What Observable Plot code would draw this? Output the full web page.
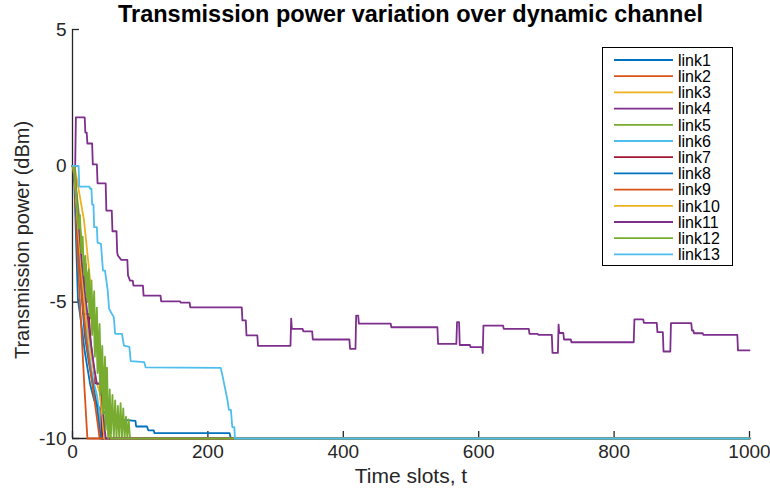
<!DOCTYPE html>
<html><head><meta charset="utf-8">
<script src="https://cdn.jsdelivr.net/npm/d3@7"></script>
<script src="https://cdn.jsdelivr.net/npm/@observablehq/plot@0.6"></script>
<style>
body{margin:0;background:#fff;}
#wrap{position:relative;width:770px;height:489px;font-family:"Liberation Sans",Arial,Helvetica,sans-serif;color:#000;}
#title{position:absolute;left:72px;width:677px;top:1px;text-align:center;font-weight:bold;font-size:23.5px;line-height:27px;}
#legend{position:absolute;left:602px;top:47px;}
</style></head><body>
<div id="wrap"><div id="title">Transmission power variation over dynamic channel</div><div id="plot"></div><div id="legend"></div></div>
<script>
// ---- data (time slot, dBm) ----
const links = ["link1","link2","link3","link4","link5","link6","link7","link8","link9","link10","link11","link12","link13"];
const colors = ["#0072BD","#D95319","#EDB120","#7E2F8E","#77AC30","#4DBEEE","#A2142F","#0072BD","#D95319","#EDB120","#7E2F8E","#77AC30","#4DBEEE"];
const xTicks = [0,200,400,600,800,1000];
const yTicks = [5,0,-5,-10];

const link1 = [[0,0],[2,0],[5,-2.5],[8,-4.9],[12,-5.6],[18,-6.8],[26,-8.0],[32,-8.6],[40,-8.9],[50,-9.1],[66,-9.3],[93,-9.35],[94,-9.56],[110,-9.56],[112,-9.7],[120,-9.7],[121,-9.8],[232,-9.8],[234,-10],[1000,-10]];
const link2 = [[0,0],[2,0],[6,-2.5],[12,-5.5],[18,-8.3],[22,-10],[1000,-10]];
const link3 = [[0,0],[3,0],[10,-1.0],[17,-2.0],[24,-3.7],[30,-5.2],[36,-6.5],[44,-7.6],[51,-8.85],[54,-9.58],[56,-10],[1000,-10]];
const link4 = [[0,0],[4,0],[5,1.78],[18,1.78],[19,1.22],[21,1.22],[22,0.82],[29,0.82],[30,0.05],[36,0.05],[37,-0.64],[49,-0.64],[50,-1.64],[58,-1.64],[59,-2.4],[65,-2.4],[66,-3.17],[67,-3.29],[72,-3.45],[81,-3.45],[82,-4.02],[85,-4.21],[89,-4.21],[90,-4.39],[104,-4.39],[105,-4.76],[130,-4.76],[131,-4.97],[159,-4.97],[160,-5.02],[173,-5.02],[174,-5.19],[250,-5.19],[251,-5.67],[256,-5.67],[257,-6.22],[273,-6.22],[274,-6.6],[322,-6.6],[323,-5.6],[324,-5.98],[340,-5.98],[341,-6.07],[354,-6.07],[355,-6.37],[409,-6.37],[410,-6.71],[418,-6.71],[419,-5.49],[422,-5.49],[423,-5.79],[470,-5.79],[471,-5.92],[539,-5.92],[540,-6.53],[567,-6.53],[568,-5.73],[571,-5.73],[572,-6.57],[587,-6.57],[588,-6.65],[605,-6.65],[606,-6.87],[607,-5.86],[636,-5.86],[637,-5.98],[674,-5.98],[675,-6.16],[687,-6.16],[688,-6.2],[708,-6.2],[709,-6.86],[717,-6.86],[718,-5.82],[719,-6.13],[725,-6.13],[726,-6.37],[736,-6.37],[737,-6.47],[829,-6.47],[830,-5.63],[843,-5.63],[844,-5.76],[863,-5.76],[864,-6.1],[872,-6.1],[873,-6.81],[883,-6.81],[884,-5.77],[914,-5.77],[915,-6.04],[917,-6.04],[918,-6.14],[931,-6.14],[932,-6.2],[982,-6.2],[983,-6.77],[1000,-6.77]];
const link5 = [[0,0],[4,-0.6],[8,-1.4],[12,-2.4],[16,-3.3],[18,-4.5],[20,-3.6],[22,-5.0],[24,-3.8],[26,-5.6],[28,-4.2],[30,-6.0],[32,-4.6],[34,-6.6],[36,-5.2],[38,-7.2],[40,-5.8],[42,-7.8],[44,-6.6],[46,-8.6],[48,-7.0],[50,-9.2],[51,-7.4],[53,-9.9],[55,-8.2],[57,-9.8],[59,-8.4],[61,-10],[63,-8.6],[65,-10],[67,-8.8],[69,-10],[71,-8.7],[73,-10],[75,-8.9],[77,-10],[79,-9.2],[81,-10],[83,-9.3],[85,-10],[1000,-10]];
const link6 = [[0,0],[2,0],[7,-2.0],[12,-3.8],[18,-5.5],[24,-6.8],[30,-7.8],[36,-8.4],[40,-9.1],[44,-10],[1000,-10]];
const link7 = [[0,0],[2,0],[8,-2.5],[14,-4.6],[16,-5.43],[24,-5.43],[27,-6.5],[34,-7.98],[41,-7.98],[44,-10],[1000,-10]];
const link8 = [[0,0],[2,0],[6,-1.9],[10,-3.4],[14,-4.9],[18,-6.2],[24,-7.2],[30,-8.0],[36,-8.8],[40,-9.6],[42,-10],[1000,-10]];
const link9 = [[0,0],[3,0],[8,-2.6],[14,-4.8],[20,-6.3],[26,-7.4],[32,-8.5],[38,-9.6],[40,-10],[1000,-10]];
const link10 = [[0,0],[2,0],[8,-2.2],[14,-4.0],[20,-5.6],[28,-7.0],[34,-7.8],[40,-8.3],[44,-9.2],[47,-10],[1000,-10]];
const link11 = [[0,0],[3,0],[8,-1.8],[14,-3.6],[20,-5.0],[26,-6.3],[32,-7.4],[36,-8.0],[42,-8.0],[45,-9.0],[49,-10],[1000,-10]];
const link12 = [[0,0],[3,0],[6,-1.2],[9,-2.3],[11,-1.8],[13,-3.2],[15,-2.6],[17,-4.0],[19,-3.3],[21,-4.8],[23,-3.9],[25,-5.5],[27,-4.5],[29,-6.2],[31,-5.0],[33,-7.0],[35,-5.8],[37,-7.6],[39,-6.6],[41,-8.4],[43,-7.3],[45,-9.1],[47,-8.0],[49,-9.7],[51,-8.7],[53,-10],[55,-9.2],[57,-10],[1000,-10]];
const link13 = [[0,0],[9,0],[10,-0.76],[25,-0.76],[26,-0.84],[28,-0.84],[29,-1.42],[31,-1.42],[32,-2.25],[36,-2.25],[37,-2.82],[42,-2.86],[45,-3.84],[48,-3.84],[52,-4.57],[54,-5.24],[58,-5.42],[61,-5.55],[63,-6.16],[73,-6.16],[76,-6.59],[84,-6.64],[86,-7.16],[106,-7.2],[108,-7.39],[219,-7.41],[221,-7.63],[229,-8.6],[231,-8.95],[234,-8.95],[236,-9.58],[239,-9.58],[240,-10],[1000,-10]];

const series = [link1,link2,link3,link4,link5,link6,link7,link8,link9,link10,link11,link12,link13];
const rows = series.flatMap((s,i) => s.map(([t,v]) => ({link: links[i], t, v})));

const W = 770, H = 489, mL = 72, mR = 21, mT = 29, mB = 51;
const pw = W - mL - mR, ph = H - mT - mB;
const ink = "#262626";
const fmt = d => String(d);

const chart = Plot.plot({
  width: W, height: H,
  marginLeft: mL, marginRight: mR, marginTop: mT, marginBottom: mB,
  style: {fontFamily: '"Liberation Sans", Arial, Helvetica, sans-serif', fontSize: "19px", color: ink, background: "white"},
  x: {domain: [0,1000]},
  y: {domain: [-10,5]},
  color: {domain: links, range: colors},
  marks: [
    Plot.ruleX([0], {stroke: ink, strokeWidth: 1.3}),
    Plot.ruleY([-10], {stroke: ink, strokeWidth: 1.3}),
    Plot.tickY(yTicks, {y: d => d, stroke: ink, strokeWidth: 1.3, insetRight: pw - 7}),
    Plot.tickX(xTicks, {x: d => d, stroke: ink, strokeWidth: 1.3, insetTop: ph - 7}),
    Plot.axisY(yTicks, {tickSize: 0, tickPadding: 6, label: null, fill: ink, tickFormat: fmt, fontSize: 19}),
    Plot.axisX(xTicks, {tickSize: 0, tickPadding: 6, label: null, fill: ink, tickFormat: fmt, fontSize: 19}),
    Plot.line(rows, {x: "t", y: "v", z: "link", stroke: "link", strokeWidth: 1.8}),
    Plot.text(["Time slots, t"], {frameAnchor: "bottom", dy: 44, fontSize: 21, fill: ink}),
    Plot.text(["Transmission power (dBm)"], {frameAnchor: "left", dx: -50, dy: 6, rotate: -90, textAnchor: "middle", fontSize: 20, fill: ink})
  ]
});
document.getElementById("plot").appendChild(chart);

// legend
const rowH = 16.2, lw = 130, lh = 218;
const lg = d3.select("#legend").append("svg").attr("width", lw + 2).attr("height", lh + 2);
lg.append("rect").attr("x", 0.5).attr("y", 0.5).attr("width", lw).attr("height", lh).attr("fill", "white").attr("stroke", "#000").attr("stroke-width", 1);
links.forEach((name, i) => {
  const y = 13 + i * rowH;
  lg.append("line").attr("x1", 12).attr("x2", 71).attr("y1", y).attr("y2", y).attr("stroke", colors[i]).attr("stroke-width", 1.8);
  lg.append("text").attr("x", 76).attr("y", y).attr("dy", "0.36em").attr("font-size", 16).attr("fill", "#000")
    .attr("font-family", '"Liberation Sans", Arial, sans-serif').text(name);
});
</script>
</body></html>
